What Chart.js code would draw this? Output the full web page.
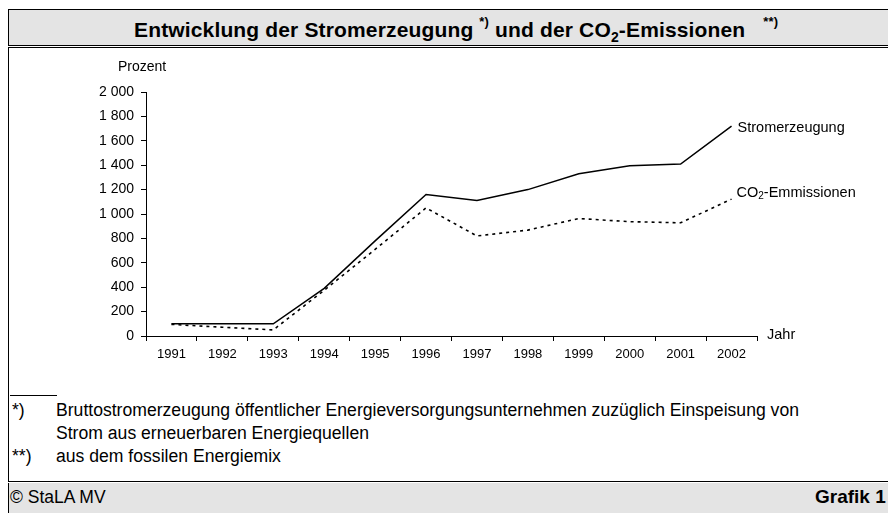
<!DOCTYPE html>
<html><head><meta charset="utf-8">
<script src="https://cdn.jsdelivr.net/npm/chart.js@4/dist/chart.umd.min.js"></script>
<style>
html,body{margin:0;padding:0;background:#fff;width:888px;height:513px;overflow:hidden;font-family:"Liberation Sans",Arial,sans-serif;}
#title{position:absolute;left:8px;top:9px;width:890px;height:35px;background:#e4e4e4;border:1.5px solid #000;border-right:none;font-weight:bold;font-size:21px;line-height:39px;color:#000;white-space:nowrap;}
#title span.t{position:absolute;left:125px;top:0;letter-spacing:0.15px;}
#title sup{font-size:13px;position:relative;top:-3px;vertical-align:super;line-height:0;}
#title sub{font-size:14px;line-height:0;}
#panel{position:absolute;left:8px;top:47px;width:890px;height:433px;border:1.5px solid #000;border-right:none;background:#fff;}
#cv{position:absolute;left:9px;top:48px;width:879px;height:322px;}
#sep{position:absolute;left:10px;top:395px;width:47px;border-top:1px solid #000;}
.fn{position:absolute;font-size:17.6px;line-height:20px;color:#000;white-space:nowrap;}
#bottom{position:absolute;left:8px;top:483px;width:890px;height:40px;background:#e4e4e4;border-left:1.5px solid #000;}
#copy{position:absolute;left:10px;top:487px;font-size:17.5px;line-height:20px;}
#graf{position:absolute;left:815px;top:486px;font-size:19px;line-height:22px;font-weight:bold;white-space:nowrap;}
</style></head><body>
<div id="title"><span class="t">Entwicklung der Stromerzeugung <sup>*)</sup> und der CO<sub>2</sub>-Emissionen &nbsp;&nbsp;<sup>**)</sup></span></div>
<div id="panel"></div>
<div id="cv"><canvas id="c"></canvas></div>
<div id="sep"></div>
<div class="fn" style="left:12px;top:400px;">*)</div>
<div class="fn" style="left:56px;top:400px;">Bruttostromerzeugung öffentlicher Energieversorgungsunternehmen zuzüglich Einspeisung von</div>
<div class="fn" style="left:56px;top:423px;">Strom aus erneuerbaren Energiequellen</div>
<div class="fn" style="left:12px;top:446px;">**)</div>
<div class="fn" style="left:56px;top:446px;">aus dem fossilen Energiemix</div>
<div id="bottom"></div>
<div id="copy">© StaLA MV</div>
<div id="graf">Grafik 1</div>
<script>
const years = ['1991','1992','1993','1994','1995','1996','1997','1998','1999','2000','2001','2002'];
const strom = [100, 100, 100, 390, 780, 1160, 1110, 1200, 1330, 1395, 1410, 1720];
const co2 = [95, 72, 50, 375, 710, 1050, 820, 868, 963, 937, 928, 1122];
const yTicks = [0,200,400,600,800,1000,1200,1400,1600,1800,2000];
const seriesLabels = ['Stromerzeugung','CO2-Emmissionen'];

const FONT = '"Liberation Sans", Arial, sans-serif';
function fmt(v){ return String(v).replace(/\B(?=(\d{3})+(?!\d))/g,' '); }

const labelPlugin = {
  id:'labels',
  afterDatasetsDraw(chart){
    const ctx = chart.ctx, x = chart.scales.x, y = chart.scales.y;
    ctx.save();
    ctx.fillStyle = '#000';
    ctx.textBaseline = 'middle';
    ctx.textAlign = 'left';
    ctx.font = '14px ' + FONT;
    ctx.fillText('Prozent', x.left - 28, y.top - 25);
    ctx.font = '14.5px ' + FONT;
    ctx.fillText('Jahr', x.right + 10, y.bottom - 1);
    const m0 = chart.getDatasetMeta(0).data[strom.length-1];
    const m1 = chart.getDatasetMeta(1).data[co2.length-1];
    ctx.fillText(seriesLabels[0], m0.x + 6, m0.y + 2);
    let lx = m1.x + 5, ly = m1.y - 6;
    ctx.fillText('CO', lx, ly);
    lx += ctx.measureText('CO').width;
    ctx.font = '10px ' + FONT;
    ctx.fillText('2', lx, ly + 3);
    lx += ctx.measureText('2').width;
    ctx.font = '14.5px ' + FONT;
    ctx.fillText(seriesLabels[1].slice(3), lx, ly);
    ctx.restore();
  }
};

new Chart(document.getElementById('c'), {
  type:'line',
  data:{
    labels: years,
    datasets:[
      {label:seriesLabels[0], data:strom, borderColor:'#000', borderWidth:1.5, pointRadius:0, tension:0, fill:false},
      {label:seriesLabels[1], data:co2, borderColor:'#000', borderWidth:1.6, borderDash:[3,4], pointRadius:0, tension:0, fill:false}
    ]
  },
  options:{
    responsive:true, maintainAspectRatio:false, animation:false,
    devicePixelRatio:1,
    layout:{padding:{left:0, top:44, right:131, bottom:0}},
    plugins:{legend:{display:false}, tooltip:{enabled:false}, title:{display:false}},
    scales:{
      x:{
        offset:true,
        grid:{offset:true, drawOnChartArea:false, drawTicks:true, tickLength:5, color:'#000', lineWidth:1},
        border:{color:'#000', width:1},
        ticks:{color:'#000', font:{family:FONT, size:13}, padding:6, maxRotation:0, autoSkip:false},
        afterFit(s){ s.height = 34; }
      },
      y:{
        min:0, max:2000,
        afterBuildTicks(s){ s.ticks = yTicks.map(v=>({value:v})); },
        grid:{drawOnChartArea:false, drawTicks:true, tickLength:5, color:'#000', lineWidth:1},
        border:{color:'#000', width:1},
        ticks:{color:'#000', font:{family:FONT, size:14}, padding:7, callback:(v)=>fmt(v)},
        afterFit(s){ s.width = 137; }
      }
    }
  },
  plugins:[labelPlugin]
});
</script>
</body></html>
